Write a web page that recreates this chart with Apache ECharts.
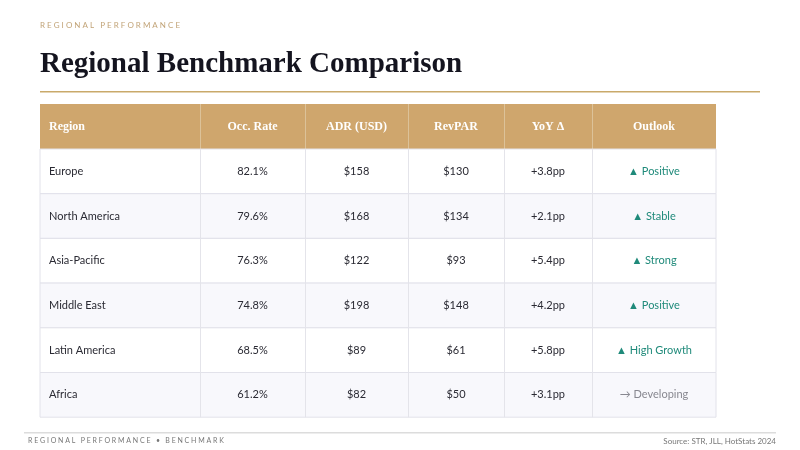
<!DOCTYPE html>
<html><head><meta charset="utf-8">
<script src="https://cdn.jsdelivr.net/npm/echarts@6/dist/echarts.min.js"></script>
<style>html,body{margin:0;padding:0;background:#fff}#main{width:800px;height:450px}</style>
</head><body><div id="main"></div>
<script>
// table data
var headers = ['Region', 'Occ. Rate', 'ADR (USD)', 'RevPAR', 'YoY Δ', 'Outlook'];
var regions = ['Europe', 'North America', 'Asia-Pacific', 'Middle East', 'Latin America', 'Africa'];
var occRate = ['82.1%', '79.6%', '76.3%', '74.8%', '68.5%', '61.2%'];
var adr = ['$158', '$168', '$122', '$198', '$89', '$82'];
var revpar = ['$130', '$134', '$93', '$148', '$61', '$50'];
var yoy = ['+3.8pp', '+2.1pp', '+5.4pp', '+4.2pp', '+5.8pp', '+3.1pp'];
var outlook = ['▲ Positive', '▲ Stable', '▲ Strong', '▲ Positive', '▲ High Growth', '→ Developing'];

var colX = [40, 200, 305, 408, 504, 592, 716];
var headTop = 104, headH = 45, rowH = 44.7;
var sans = 'Lato, "Noto Sans", sans-serif';
var serif = '"Liberation Serif", "DejaVu Serif", serif';

var els = [];
els.push({type: 'text', left: 40, top: 21, style: {text: 'R E G I O N A L   P E R F O R M A N C E', fill: '#c2a478', font: '8px ' + sans}});
els.push({type: 'text', left: 40, top: 50, style: {text: 'Regional Benchmark Comparison', fill: '#14141f', font: 'bold 29px ' + serif}});
els.push({type: 'rect', shape: {x: 40, y: 91, width: 720, height: 1.5}, style: {fill: '#c9a96a'}});

// header
els.push({type: 'rect', shape: {x: colX[0], y: headTop, width: colX[6] - colX[0], height: headH}, style: {fill: '#cfa66d'}});
headers.forEach(function (h, i) {
    var left = i === 0;
    els.push({type: 'text', x: left ? colX[0] + 9 : (colX[i] + colX[i + 1]) / 2, y: headTop + headH / 2,
        style: {text: h, fill: '#fff', font: 'bold 12px ' + serif, align: left ? 'left' : 'center', verticalAlign: 'middle'}});
    if (i > 0) els.push({type: 'rect', shape: {x: colX[i], y: headTop, width: 1, height: headH}, style: {fill: '#dcc299'}});
});

// rows
var cols = [regions, occRate, adr, revpar, yoy, outlook];
regions.forEach(function (r, j) {
    var y = headTop + headH + j * rowH;
    els.push({type: 'rect', shape: {x: colX[0], y: y, width: colX[6] - colX[0], height: rowH},
        style: {fill: j % 2 ? '#f8f8fc' : '#ffffff', stroke: '#e2e2ea', lineWidth: 1}});
    cols.forEach(function (c, i) {
        var left = i === 0;
        var col = '#2a2a33';
        if (i === 5) col = c[j].charAt(0) === '▲' ? '#1f8a7a' : '#888890';
        els.push({type: 'text', x: left ? colX[0] + 9 : (colX[i] + colX[i + 1]) / 2, y: y + rowH / 2,
            style: {text: c[j], fill: col, font: '11px ' + sans, align: left ? 'left' : 'center', verticalAlign: 'middle'}});
        if (i > 0) els.push({type: 'rect', shape: {x: colX[i], y: y, width: 1, height: rowH}, style: {fill: '#e4e4ea'}});
    });
});

// footer
els.push({type: 'rect', shape: {x: 24, y: 432, width: 752, height: 1.5}, style: {fill: '#dcdcdc'}});
els.push({type: 'text', left: 28, top: 437, style: {text: 'R E G I O N A L   P E R F O R M A N C E   •   B E N C H M A R K', fill: '#777', font: '7px ' + sans}});
els.push({type: 'text', right: 24, top: 437, style: {text: 'Source: STR, JLL, HotStats 2024', fill: '#777', font: '8px ' + sans}});

var chart = echarts.init(document.getElementById('main'));
chart.setOption({backgroundColor: '#fff', animation: false, graphic: {elements: els}});
</script></body></html>
